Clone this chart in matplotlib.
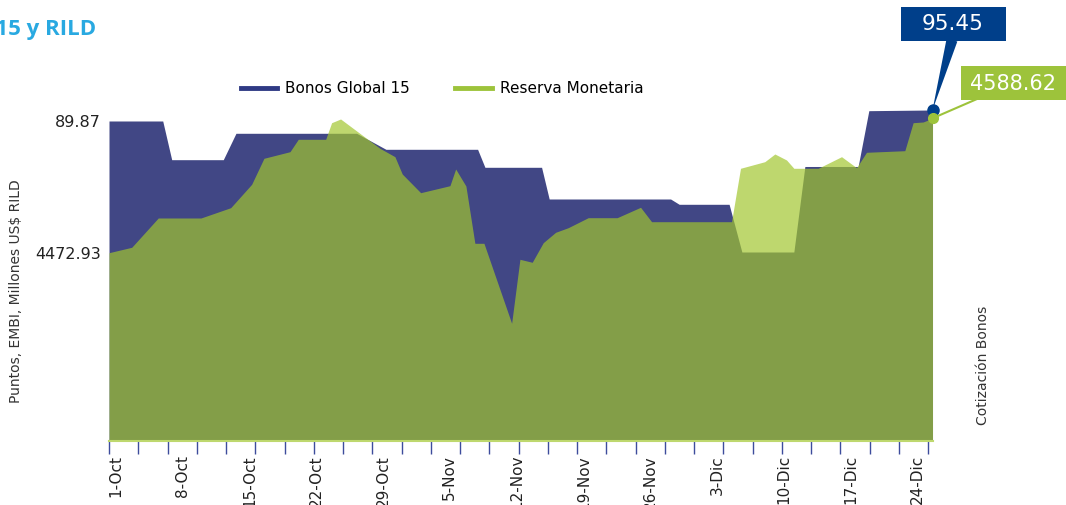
import matplotlib
matplotlib.use('Agg')
import matplotlib.pyplot as plt
from matplotlib.patches import Rectangle
from matplotlib.lines import Line2D
import numpy as np

# dias contados desde el 1-Oct
bonos_dias = [0, 5.51, 6.43, 11.72, 13.02, 25.39, 28.40, 37.80, 38.55, 44.36,
              45.14, 57.59, 58.47, 63.59, 64.90, 70.23, 71.36, 76.82, 77.92, 84.45]
bonos_valor = [89.87, 89.87, 70.24, 70.24, 83.63, 83.63, 75.51, 75.51, 66.38, 66.38,
               50.30, 50.30, 47.61, 47.61, 23.41, 23.41, 66.79, 66.79, 95.10, 95.45]

reserva_dias = [0, 2.33, 5.05, 9.43, 12.48, 14.63, 15.89, 18.56, 19.41, 22.22,
                22.83, 23.75, 27.78, 29.32, 30.07, 31.96, 34.96, 35.55, 36.60, 37.52,
                38.45, 41.29, 42.14, 43.40, 44.53, 45.80, 47.09, 49.14, 52.11, 54.51,
                55.64, 63.84, 64.76, 67.25, 68.28, 69.48, 70.23, 72.72, 75.12, 76.66,
                77.68, 81.61, 82.46, 83.49, 84.45]
reserva_valor = [4472.93, 4477.58, 4502.80, 4502.80, 4511.67, 4531.81, 4554.19, 4559.87, 4570.54, 4570.54,
                 4584.83, 4588.02, 4562.80, 4555.57, 4540.67, 4524.58, 4530.60, 4544.98, 4530.34, 4481.02,
                 4481.02, 4412.16, 4467.25, 4464.67, 4481.54, 4490.49, 4494.45, 4503.06, 4503.06, 4512.01,
                 4499.61, 4499.61, 4545.58, 4551.26, 4557.89, 4552.73, 4545.58, 4545.58, 4555.57, 4546.10,
                 4559.35, 4560.73, 4584.83, 4585.44, 4588.62]

fechas = ['1-Oct', '8-Oct', '15-Oct', '22-Oct', '29-Oct', '5-Nov', '12-Nov',
          '19-Nov', '26-Nov', '3-Dic', '10-Dic', '17-Dic', '24-Dic']

AZUL = '#414785'
AZUL_OSC = '#003F8A'
VERDE = '#A1C62D'
VERDE_LEY = '#9DC33B'

W, H = 1066, 505
fig = plt.figure(figsize=(W / 100, H / 100), dpi=100)
ax = fig.add_axes([109 / W, 1 - 441 / H, (933 - 109) / W, (441 - 100) / H])
ax2 = ax.twinx()

ax.set_xlim(0, 84.5)
ax.set_ylim(-72.47, 100.52)
ax2.set_ylim(4310.84, 4604.37)

# bonos abajo, reserva encima con transparencia
ax.fill_between(bonos_dias, bonos_valor, ax.get_ylim()[0], color=AZUL, lw=0)
ax2.fill_between(reserva_dias, reserva_valor, ax2.get_ylim()[0], color=VERDE, alpha=0.69, lw=0)

for a in (ax, ax2):
    for s in a.spines.values():
        s.set_visible(False)
ax2.spines['bottom'].set_visible(True)
ax2.spines['bottom'].set_color('#BED86E')
ax2.spines['bottom'].set_linewidth(1.5)

# eje x
ax.set_xticks([0.7 + 6.85 * i for i in range(len(fechas))], fechas, rotation=90)
ax.set_xticks(np.arange(0, 85, 3), minor=True)
ax.tick_params(axis='x', which='major', length=0, pad=10, labelsize=11, labelcolor='#222222')
ax.tick_params(axis='x', which='minor', length=9, width=1, color='#3D4C9C')

# eje y: solo los valores iniciales
ax.set_yticks([bonos_valor[0]], ['89.87'])
ax2.set_yticks([reserva_valor[0]], ['4472.93'])
ax2.yaxis.tick_left()
for a in (ax, ax2):
    a.tick_params(axis='y', length=0, pad=6, labelsize=11.5, labelcolor='#222222')

fig.text(16 / W, 1 - 291 / H, 'Puntos, EMBI, Millones US$ RILD', rotation=90,
         ha='center', va='center', fontsize=10, color='#333333')
fig.text(983 / W, 1 - 365 / H, 'Cotización Bonos', rotation=90,
         ha='center', va='center', fontsize=10, color='#333333')

fig.text(96 / W, 1 - 30 / H, 'Bonos Global 15 y RILD', ha='right', va='center',
         fontsize=16, fontweight='bold', color='#29A9E1', family='Open Sans')

handles = [Line2D([], [], color='#2F3A84', lw=3.5), Line2D([], [], color=VERDE_LEY, lw=3.5)]
fig.legend(handles, ['Bonos Global 15', 'Reserva Monetaria'], loc='center',
           bbox_to_anchor=(442 / W, 1 - 89 / H), ncol=2, frameon=False, fontsize=11,
           handlelength=2.4, handletextpad=0.5, columnspacing=3.0)

# llamadas con el ultimo valor
fig.patches.append(Rectangle((901 / W, 1 - 40.7 / H), 105 / W, 34 / H,
                             transform=fig.transFigure, facecolor=AZUL_OSC, edgecolor='none'))
fig.text(953 / W, 1 - 24 / H, '95.45', ha='center', va='center', fontsize=15.5, color='white')
ax2.annotate('', xy=(bonos_dias[-1], bonos_valor[-1]), xycoords=ax.transData,
             xytext=(952, H - 40), textcoords='figure pixels',
             arrowprops=dict(arrowstyle='wedge,tail_width=0.8,shrink_factor=0.5',
                             fc=AZUL_OSC, ec='none', shrinkA=0, shrinkB=0, mutation_scale=10))
ax2.plot([bonos_dias[-1]], [bonos_valor[-1]], 'o', color=AZUL_OSC, ms=8,
         transform=ax.transData, clip_on=False)

fig.patches.append(Rectangle((961 / W, 1 - 99.5 / H), 105 / W, 33.5 / H,
                             transform=fig.transFigure, facecolor=VERDE_LEY, edgecolor='none'))
fig.text(1013 / W, 1 - 84 / H, '4588.62', ha='center', va='center', fontsize=15, color='white')
ax2.annotate('', xy=(reserva_dias[-1], reserva_valor[-1]),
             xytext=(977, H - 99), textcoords='figure pixels',
             arrowprops=dict(arrowstyle='-', color=VERDE_LEY, lw=1.5, shrinkA=0, shrinkB=0))
ax2.plot([reserva_dias[-1]], [reserva_valor[-1]], 'o', color=VERDE_LEY, ms=7, clip_on=False)

fig.savefig('out.png', dpi=100)
